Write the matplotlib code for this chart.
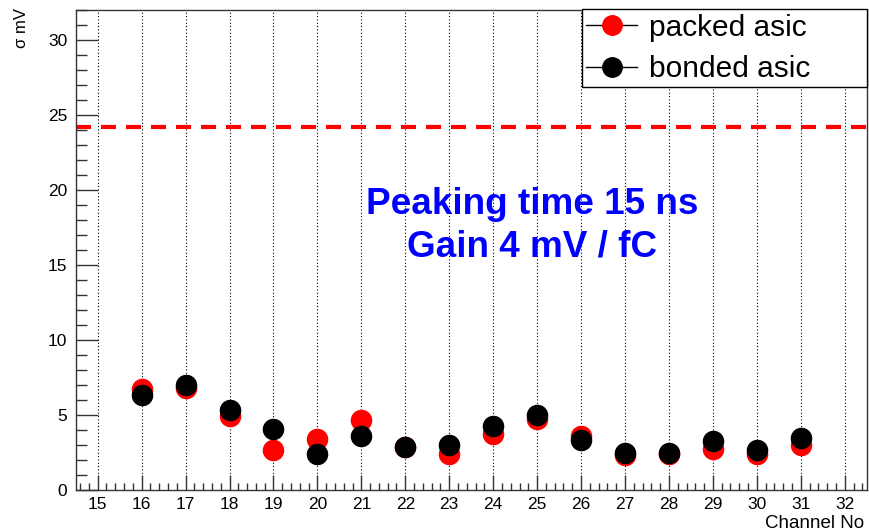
import matplotlib
matplotlib.use("Agg")
import matplotlib.pyplot as plt
from matplotlib.lines import Line2D
from matplotlib.ticker import MultipleLocator

plt.rcParams['font.family'] = ['Liberation Sans', 'DejaVu Sans']

channels = [16, 17, 18, 19, 20, 21, 22, 23, 24, 25, 26, 27, 28, 29, 30, 31]
packed = [6.75, 6.8, 4.91, 2.65, 3.43, 4.64, 2.85, 2.37, 3.72, 4.75, 3.58, 2.32, 2.37, 2.76, 2.43, 2.99]
bonded = [6.35, 7.03, 5.31, 4.05, 2.43, 3.58, 2.88, 2.99, 4.29, 4.98, 3.36, 2.5, 2.5, 3.25, 2.7, 3.5]
threshold = 24.2
xticks = list(range(15, 33))
yticks = [0, 5, 10, 15, 20, 25, 30]
labels = ["packed asic", "bonded asic"]
text_lines = ["Peaking time 15 ns", "Gain 4 mV / fC"]

fig = plt.figure(figsize=(8.69, 5.32), dpi=100)
ax = fig.add_axes([75.7/869, 42/532, 791/869, 480/532])

ax.set_xlim(14.5, 32.5)
ax.set_ylim(0, 32)

for xv in xticks:
    ax.axvline(xv, color='black', linestyle=(0, (1, 2)), linewidth=0.8, zorder=1)

ln = ax.axhline(threshold, color='#ff0000', linewidth=3, zorder=2)
ln.set_dashes([3.6, 2.4])

ax.plot(channels, packed, 'o', color='#ff0000', markersize=14.5, zorder=3)
ax.plot(channels, bonded, 'o', color='black', markersize=14.5, zorder=4)

ax.set_xticks(xticks)
ax.set_yticks(yticks)
ax.xaxis.set_minor_locator(MultipleLocator(0.2))
ax.yaxis.set_minor_locator(MultipleLocator(1))
ax.tick_params(axis='both', which='both', direction='in', colors='#333333', labelcolor='black')
ax.tick_params(axis='y', which='major', length=16, width=1, labelsize=12.5, pad=6)
ax.tick_params(axis='y', which='minor', length=8, width=1)
ax.tick_params(axis='x', which='major', length=11, width=1, labelsize=12.5, pad=5)
ax.tick_params(axis='x', which='minor', length=5, width=1)
ax.tick_params(top=False, right=False, which='both')
for s in ax.spines.values():
    s.set_color('#333333')
    s.set_linewidth(1)

fig.text(765/869, 1 - 523/532, "Channel No", fontsize=13.5, ha='left', va='center')
fig.text(21/869, 1 - 8/532, "σ mV", fontsize=12, rotation=90, ha='center', va='top')

ax.text(532/869, 1 - 205/532, text_lines[0], transform=fig.transFigure, fontsize=26.6,
        fontweight='bold', color='#0000ff', ha='center', va='center')
ax.text(532/869, 1 - 247/532, text_lines[1], transform=fig.transFigure, fontsize=26.6,
        fontweight='bold', color='#0000ff', ha='center', va='center')

handles = [Line2D([0], [0], color='black', linewidth=1, marker='o', markersize=14,
                  markerfacecolor='#ff0000', markeredgecolor='#ff0000'),
           Line2D([0], [0], color='black', linewidth=1, marker='o', markersize=14,
                  markerfacecolor='black', markeredgecolor='black')]
leg = ax.legend(handles, labels, loc='upper left',
                bbox_to_anchor=((582 - 75.7) / 791, 0.8, (866.7 - 582) / 791, 0.202),
                mode='expand', borderaxespad=0, fontsize=21.5, handlelength=1.7,
                handletextpad=0.4, labelspacing=0.45, borderpad=0.15, fancybox=False,
                framealpha=1, edgecolor='black')
leg.get_frame().set_linewidth(1)
leg.set_zorder(10)

fig.savefig("out.png", dpi=100)
